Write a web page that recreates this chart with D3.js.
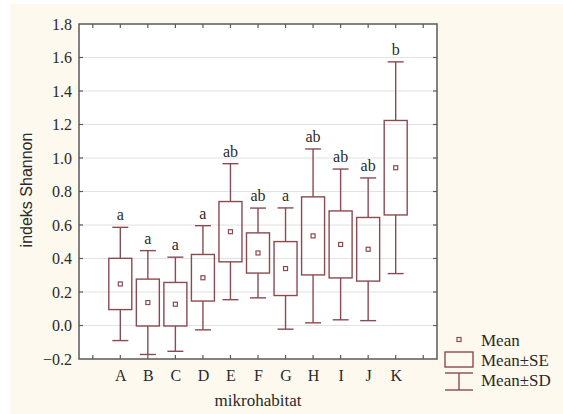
<!DOCTYPE html>
<html>
<head>
<meta charset="utf-8">
<script src="https://cdn.jsdelivr.net/npm/d3@7"></script>
<style>
  html, body { margin: 0; padding: 0; background: #ffffff; }
  svg { display: block; }
</style>
</head>
<body>
<script>
// Shannon diversity index per microhabitat: mean, standard error, standard deviation
const categories = ["A", "B", "C", "D", "E", "F", "G", "H", "I", "J", "K"];
const means = [0.248, 0.137, 0.127, 0.285, 0.56, 0.433, 0.34, 0.535, 0.484, 0.455, 0.942];
const se = [0.153, 0.14, 0.13, 0.139, 0.18, 0.12, 0.161, 0.233, 0.2, 0.19, 0.282];
const sd = [0.338, 0.31, 0.281, 0.311, 0.406, 0.268, 0.362, 0.519, 0.45, 0.426, 0.632];
const groups = ["a", "a", "a", "a", "ab", "ab", "a", "ab", "ab", "ab", "b"];
const yTicks = [-0.2, 0.0, 0.2, 0.4, 0.6, 0.8, 1.0, 1.2, 1.4, 1.6, 1.8];
const legendLabels = ["Mean", "Mean\u00B1SE", "Mean\u00B1SD"];

const W = 563, H = 414;
const plot = { left: 79, right: 437, top: 24, bottom: 359 };
const markColor = "#8a4b50";
const frameColor = "#5a5a5a";
const serif = "'Liberation Serif', 'Times New Roman', serif";
const sans = "'Liberation Sans', Arial, sans-serif";

const svg = d3.select("body").append("svg")
  .attr("width", W).attr("height", H);

// page background with thin white margin top/left
svg.append("rect").attr("width", W).attr("height", H).attr("fill", "#ffffff");
svg.append("rect").attr("x", 10).attr("y", 4).attr("width", W - 10).attr("height", H - 4)
  .attr("fill", "#fdf9ee");

const x = d3.scalePoint().domain(categories).range([plot.left, plot.right]).padding(1.5);
const y = d3.scaleLinear().domain([-0.2, 1.8]).range([plot.bottom, plot.top]);

// plot area
svg.append("rect")
  .attr("x", plot.left).attr("y", plot.top)
  .attr("width", plot.right - plot.left).attr("height", plot.bottom - plot.top)
  .attr("fill", "#ffffff");

// horizontal gridlines
svg.append("g").selectAll("line")
  .data(yTicks.slice(1, -1))
  .join("line")
  .attr("x1", plot.left).attr("x2", plot.right)
  .attr("y1", d => y(d)).attr("y2", d => y(d))
  .attr("stroke", "#e2e2e2").attr("stroke-width", 1.2);

// left axis with labels
const yAxis = d3.axisLeft(y).tickValues(yTicks).tickSize(0).tickPadding(7)
  .tickFormat(d3.format(".1f"));
const gy = svg.append("g").attr("transform", `translate(${plot.left},0)`).call(yAxis);
gy.select(".domain").remove();
gy.selectAll("text").attr("font-family", serif).attr("font-size", 16).attr("fill", "#2a2a2a");

// x tick positions, including one step beyond each end
const step = x.step();
const xTickPos = d3.range(-1, categories.length + 1).map(i => x(categories[0]) + i * step);

const ticks = svg.append("g").attr("stroke", frameColor).attr("stroke-width", 1.2);
xTickPos.forEach(px => {
  ticks.append("line").attr("x1", px).attr("x2", px).attr("y1", plot.bottom).attr("y2", plot.bottom - 4);
  ticks.append("line").attr("x1", px).attr("x2", px).attr("y1", plot.top).attr("y2", plot.top + 4);
});
yTicks.slice(1, -1).forEach(v => {
  ticks.append("line").attr("x1", plot.right).attr("x2", plot.right - 4).attr("y1", y(v)).attr("y2", y(v));
  ticks.append("line").attr("x1", plot.left).attr("x2", plot.left + 4).attr("y1", y(v)).attr("y2", y(v));
});

// frame
svg.append("rect")
  .attr("x", plot.left).attr("y", plot.top)
  .attr("width", plot.right - plot.left).attr("height", plot.bottom - plot.top)
  .attr("fill", "none").attr("stroke", frameColor).attr("stroke-width", 1.5);

// x category labels
const xAxis = d3.axisBottom(x).tickSize(0).tickPadding(11);
const gx = svg.append("g").attr("transform", `translate(0,${plot.bottom})`).call(xAxis);
gx.select(".domain").remove();
gx.selectAll("text").attr("font-family", serif).attr("font-size", 16).attr("fill", "#2a2a2a");

// whiskers, boxes, means
const boxW = 23, capW = 16, mk = 4;
const rows = categories.map((c, i) => ({ c, m: means[i], se: se[i], sd: sd[i], g: groups[i] }));
const marks = svg.append("g").attr("stroke", markColor).attr("stroke-width", 1.4).attr("fill", "none");

rows.forEach(r => {
  const cx = x(r.c);
  marks.append("line").attr("x1", cx).attr("x2", cx).attr("y1", y(r.m + r.sd)).attr("y2", y(r.m + r.se));
  marks.append("line").attr("x1", cx).attr("x2", cx).attr("y1", y(r.m - r.se)).attr("y2", y(r.m - r.sd));
  marks.append("line").attr("x1", cx - capW / 2).attr("x2", cx + capW / 2)
    .attr("y1", y(r.m + r.sd)).attr("y2", y(r.m + r.sd));
  marks.append("line").attr("x1", cx - capW / 2).attr("x2", cx + capW / 2)
    .attr("y1", y(r.m - r.sd)).attr("y2", y(r.m - r.sd));
  marks.append("rect").attr("x", cx - boxW / 2).attr("y", y(r.m + r.se))
    .attr("width", boxW).attr("height", y(r.m - r.se) - y(r.m + r.se));
  marks.append("rect").attr("x", cx - mk / 2).attr("y", y(r.m) - mk / 2)
    .attr("width", mk).attr("height", mk).attr("stroke-width", 1.2);
});

// homogeneous group letters
svg.append("g").selectAll("text")
  .data(rows)
  .join("text")
  .attr("x", d => x(d.c))
  .attr("y", d => y(d.m + d.sd) - 7)
  .attr("text-anchor", "middle")
  .attr("font-family", serif).attr("font-size", 16).attr("fill", "#2a2a2a")
  .text(d => d.g);

// axis titles
svg.append("text")
  .attr("x", (plot.left + plot.right) / 2).attr("y", 406)
  .attr("text-anchor", "middle")
  .attr("font-family", serif).attr("font-size", 17).attr("fill", "#2a2a2a")
  .text("mikrohabitat");

svg.append("text")
  .attr("transform", `translate(32,190) rotate(-90)`)
  .attr("text-anchor", "middle")
  .attr("font-family", sans).attr("font-size", 16).attr("fill", "#2a2a2a")
  .text("indeks Shannon");

// legend
const lg = svg.append("g");
const lx = 459;
lg.append("rect").attr("x", lx - 2).attr("y", 337.5).attr("width", 4).attr("height", 4)
  .attr("fill", "none").attr("stroke", markColor).attr("stroke-width", 1.2);
lg.append("rect").attr("x", lx - 14).attr("y", 352).attr("width", 28).attr("height", 15)
  .attr("fill", "none").attr("stroke", markColor).attr("stroke-width", 1.4);
lg.append("line").attr("x1", lx - 14).attr("x2", lx + 14).attr("y1", 373).attr("y2", 373)
  .attr("stroke", markColor).attr("stroke-width", 1.4);
lg.append("line").attr("x1", lx).attr("x2", lx).attr("y1", 373).attr("y2", 390)
  .attr("stroke", markColor).attr("stroke-width", 1.4);
lg.append("line").attr("x1", lx - 14).attr("x2", lx + 14).attr("y1", 390).attr("y2", 390)
  .attr("stroke", markColor).attr("stroke-width", 1.4);
lg.selectAll("text.lbl")
  .data(legendLabels)
  .join("text")
  .attr("class", "lbl")
  .attr("x", 481)
  .attr("y", (d, i) => 346 + i * 20)
  .attr("font-family", serif).attr("font-size", 17).attr("fill", "#2a2a2a")
  .text(d => d);
</script>
</body>
</html>
